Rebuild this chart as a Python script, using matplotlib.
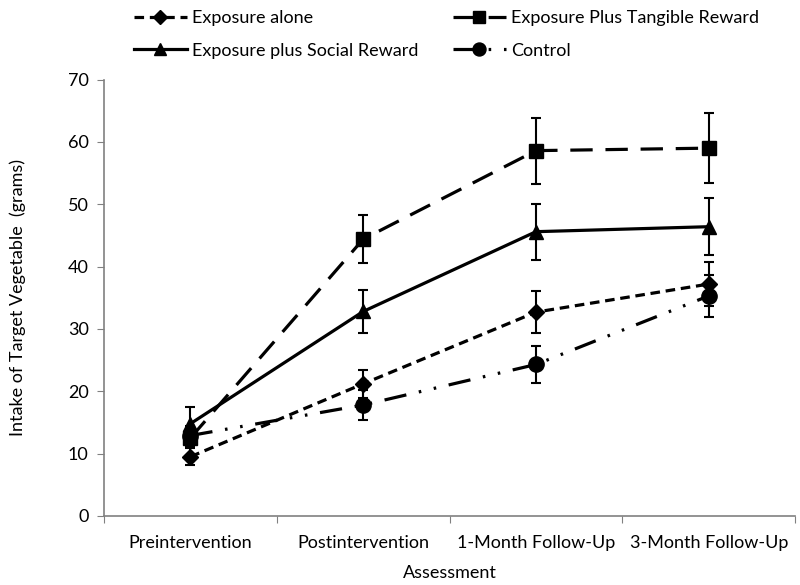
import numpy as np
import matplotlib.pyplot as plt

plt.rcParams['font.family'] = ['Lato', 'DejaVu Sans']

assessments = ['Preintervention', 'Postintervention', '1-Month Follow-Up', '3-Month Follow-Up']

exposure_alone = [9.5, 21.2, 32.7, 37.2]
exposure_alone_err = [1.4, 2.2, 3.4, 3.5]
tangible = [12.5, 44.4, 58.6, 59.0]
tangible_err = [1.5, 3.8, 5.3, 5.6]
social = [14.8, 32.8, 45.6, 46.4]
social_err = [2.6, 3.5, 4.5, 4.6]
control = [12.9, 17.8, 24.3, 35.3]
control_err = [1.5, 2.4, 2.9, 3.4]

fig = plt.figure(figsize=(8, 5.85), dpi=100)
ax = fig.add_axes([0.13, 0.118, 0.864, 0.746])

x = np.arange(len(assessments)) + 0.5

series = [
    ('Exposure alone', exposure_alone, exposure_alone_err, 'D', 8, (0, (3, 1.8))),
    ('Exposure Plus Tangible Reward', tangible, tangible_err, 's', 10.5, (0, (7, 4))),
    ('Exposure plus Social Reward', social, social_err, '^', 10.5, '-'),
    ('Control', control, control_err, 'o', 11, (0, (7, 4, 0.8, 4, 0.8, 4))),
]

handles = []
for label, vals, err, mk, ms, ls in series:
    ax.errorbar(x, vals, yerr=err, fmt='none', ecolor='black', elinewidth=1.5,
                capsize=3.5, capthick=1.5, zorder=2)
    ln, = ax.plot(x, vals, color='black', linestyle=ls, linewidth=2.3,
                  marker=mk, markersize=ms, markerfacecolor='black',
                  markeredgecolor='black', label=label, zorder=3)
    handles.append(ln)

ax.set_xlim(0, 4)
ax.set_ylim(0, 70)
ax.set_yticks(np.arange(0, 71, 10))
ax.set_xticks(np.arange(0, 5), minor=False)
ax.set_xticklabels([])
ax.set_xticks(x, minor=True)
ax.set_xticklabels(assessments, minor=True)
ax.tick_params(axis='x', which='minor', length=0, pad=14, labelsize=13)
ax.tick_params(axis='x', which='major', length=5, direction='out', color='#808080')
ax.tick_params(axis='y', length=5, direction='out', color='#808080', labelsize=13, pad=6)

for s in ['top', 'right']:
    ax.spines[s].set_visible(False)
for s in ['left', 'bottom']:
    ax.spines[s].set_color('#808080')
    ax.spines[s].set_linewidth(1.2)

ax.set_xlabel('Assessment', fontsize=13, labelpad=10)
ax.set_ylabel('Intake of Target Vegetable  (grams)', fontsize=13, labelpad=30)

fig.legend(handles=[handles[0], handles[2], handles[1], handles[3]],
           labels=['Exposure alone', 'Exposure plus Social Reward',
                   'Exposure Plus Tangible Reward', 'Control'],
           ncol=2, loc='upper left', bbox_to_anchor=(0.1475, 1.01), frameon=False,
           fontsize=13, handlelength=2.9, handletextpad=0.28, columnspacing=1.95,
           labelspacing=0.9, markerscale=0.85)

fig.savefig('out.png', dpi=100)
